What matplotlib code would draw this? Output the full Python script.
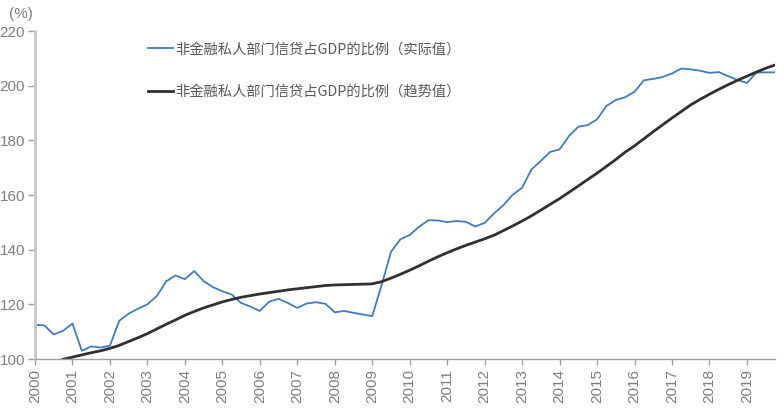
import numpy as np
import matplotlib
matplotlib.use("Agg")
import matplotlib.pyplot as plt

plt.rcParams['font.family'] = ['Liberation Sans', 'Noto Sans CJK SC', 'DejaVu Sans']

# quarterly data, 2000Q1 .. 2019Q4
actual = [
    112.5, 112.3, 109.0, 110.3,
    113.0, 103.0, 104.6, 104.2,
    104.9, 114.0, 116.6, 118.4,
    120.0, 123.0, 128.4, 130.6,
    129.2, 132.2, 128.5, 126.3,
    124.8, 123.6, 120.5, 119.2,
    117.6, 121.0, 122.0, 120.5,
    118.7, 120.3, 120.8, 120.2,
    117.1, 117.6, 116.9, 116.3,
    115.7, 127.0, 139.2, 143.8,
    145.4, 148.4, 150.8, 150.7,
    150.1, 150.5, 150.2, 148.5,
    149.8, 153.3, 156.3, 160.1,
    162.7, 169.4, 172.5, 175.8,
    176.7, 181.6, 185.0, 185.6,
    187.7, 192.6, 194.8, 195.8,
    197.8, 202.0, 202.5, 203.2,
    204.5, 206.3, 206.0, 205.5,
    204.7, 205.0, 203.5, 202.1,
    201.0, 204.8, 204.9, 204.9,
]

# trend starts at 2000Q4
trend = [
    99.9,
    100.7, 101.5, 102.3, 103.0,
    103.9, 105.0, 106.4, 107.8,
    109.3, 111.0, 112.7, 114.3,
    116.0, 117.4, 118.7, 119.8,
    120.9, 121.8, 122.6, 123.2,
    123.8, 124.3, 124.8, 125.3,
    125.7, 126.1, 126.5, 126.9,
    127.1, 127.2, 127.3, 127.4,
    127.5, 128.3, 129.6, 131.0,
    132.5, 134.1, 135.8, 137.4,
    138.9, 140.3, 141.6, 142.8,
    144.0, 145.3, 147.0, 148.7,
    150.5, 152.4, 154.5, 156.6,
    158.7, 161.0, 163.3, 165.7,
    168.0, 170.5, 173.0, 175.7,
    178.0, 180.6, 183.2, 185.7,
    188.2, 190.6, 193.0, 195.0,
    196.9, 198.7, 200.4, 202.0,
    203.5, 205.0, 206.4, 207.6,
]

years = list(range(2000, 2020))
label_actual = "非金融私人部门信贷占GDP的比例（实际值）"
label_trend = "非金融私人部门信贷占GDP的比例（趋势值）"

x_actual = 2000 + np.arange(len(actual)) * 0.25
x_trend = 2000.75 + np.arange(len(trend)) * 0.25

fig = plt.figure(figsize=(7.84, 4.09), dpi=100)
ax = fig.add_axes([0.0446, 0.1222, 0.944, 0.8018])

ax.plot(x_actual, actual, color="#3f7cc6", lw=1.3, label=label_actual)
ax.plot(x_trend, trend, color="#303030", lw=2.0, label=label_trend)

ax.set_xlim(2000, 2019.75)
ax.set_ylim(100, 220)
ax.set_yticks(range(100, 221, 20))
ax.set_xticks(years)
ax.set_xticklabels([str(y) for y in years], rotation=90)

gray = "#7f7f7f"
for side in ["top", "right"]:
    ax.spines[side].set_visible(False)
ax.spines["left"].set_color("#c8c8c8")
ax.spines["left"].set_linewidth(2.0)
ax.spines["bottom"].set_color("#a0a0a0")
ax.spines["bottom"].set_linewidth(1.0)
ax.tick_params(axis="y", colors="#a0a0a0", labelcolor=gray, labelsize=11, length=5, width=1, pad=2)
ax.tick_params(axis="x", colors="#a0a0a0", labelcolor=gray, labelsize=11, length=4, width=1, pad=3)

fig.text(0.012, 0.955, "(%)", color=gray, fontsize=11)

leg = ax.legend(loc="upper left", bbox_to_anchor=(0.136, 1.005), frameon=False,
                handlelength=1.7, handletextpad=0.2, labelspacing=2.0,
                prop={"family": ["Noto Sans CJK SC", "DejaVu Sans"], "size": 10.3})
for t in leg.get_texts():
    t.set_color("#595959")

fig.savefig("out.png", dpi=100)
